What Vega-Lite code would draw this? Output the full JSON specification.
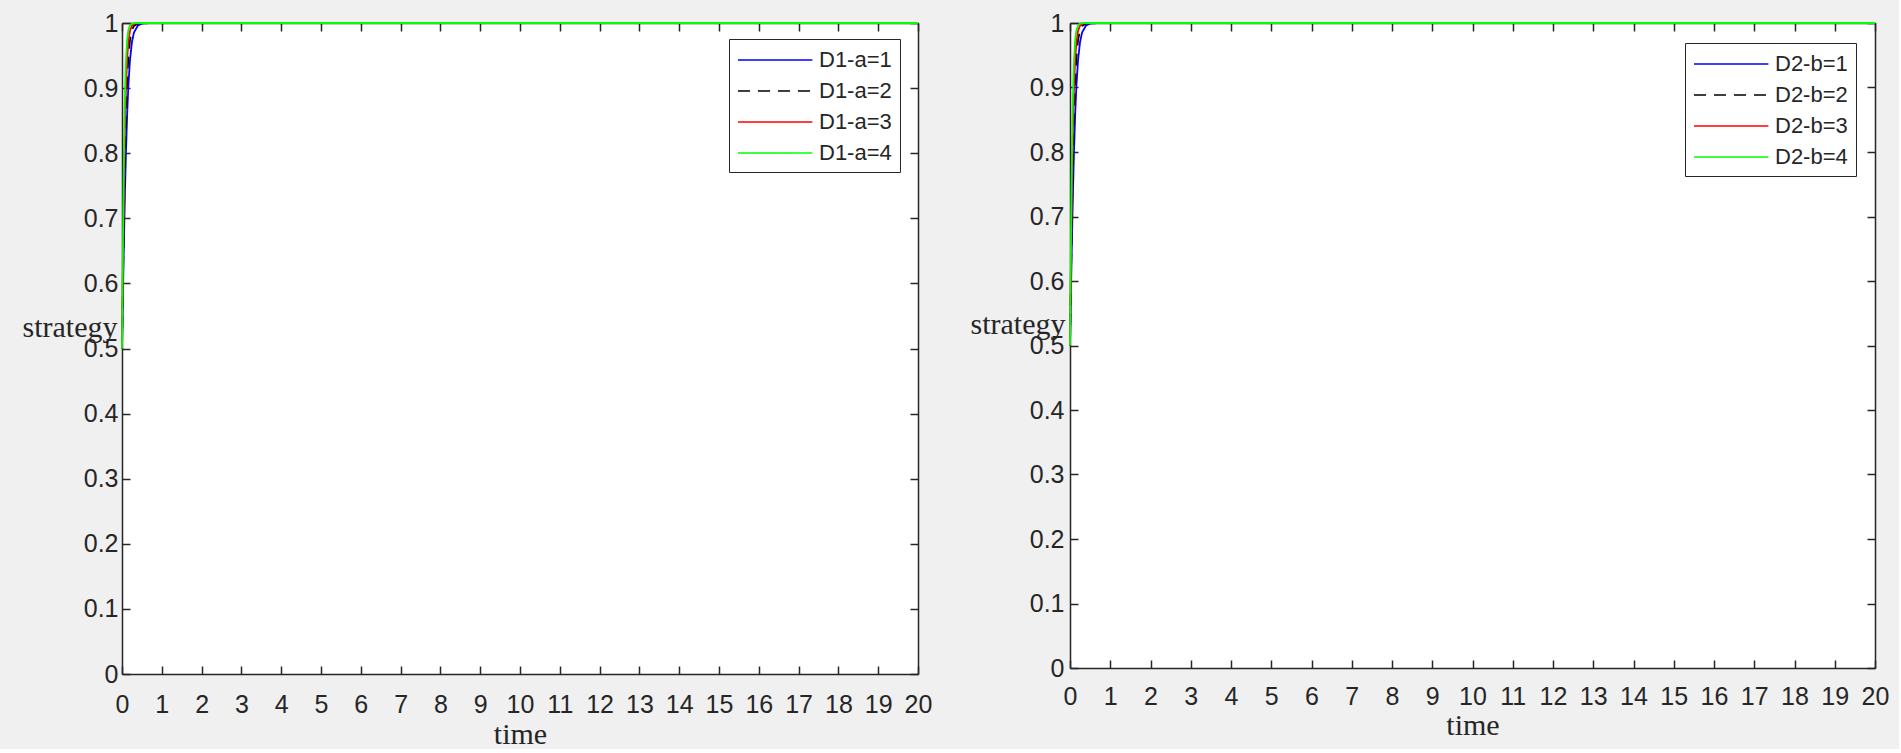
{
  "$schema": "https://vega.github.io/schema/vega-lite/v6.json",
  "background": "#f0f0f0",
  "padding": {"left": 22, "top": 11, "right": 10, "bottom": 0},
  "spacing": 38,
  "datasets": {
    "curves": [
      {"t": 0, "s": "1", "y": 0.5}, {"t": 0.02, "s": "1", "y": 0.5695}, {"t": 0.04, "s": "1", "y": 0.6365}, {"t": 0.06, "s": "1", "y": 0.6985},
      {"t": 0.08, "s": "1", "y": 0.754}, {"t": 0.1, "s": "1", "y": 0.8022}, {"t": 0.13, "s": "1", "y": 0.8606}, {"t": 0.16, "s": "1", "y": 0.9038},
      {"t": 0.2, "s": "1", "y": 0.9427}, {"t": 0.25, "s": "1", "y": 0.9707}, {"t": 0.3, "s": "1", "y": 0.9852}, {"t": 0.4, "s": "1", "y": 0.9963},
      {"t": 0.5, "s": "1", "y": 0.9991}, {"t": 0.7, "s": "1", "y": 0.9999}, {"t": 1, "s": "1", "y": 1}, {"t": 2, "s": "1", "y": 1},
      {"t": 5, "s": "1", "y": 1}, {"t": 10, "s": "1", "y": 1}, {"t": 20, "s": "1", "y": 1},
      {"t": 0, "s": "2", "y": 0.5}, {"t": 0.02, "s": "2", "y": 0.589}, {"t": 0.04, "s": "2", "y": 0.6726}, {"t": 0.06, "s": "2", "y": 0.7465},
      {"t": 0.08, "s": "2", "y": 0.8085}, {"t": 0.1, "s": "2", "y": 0.8581}, {"t": 0.13, "s": "2", "y": 0.9122}, {"t": 0.16, "s": "2", "y": 0.9469},
      {"t": 0.2, "s": "2", "y": 0.9734}, {"t": 0.25, "s": "2", "y": 0.989}, {"t": 0.3, "s": "2", "y": 0.9955}, {"t": 0.4, "s": "2", "y": 0.9993},
      {"t": 0.5, "s": "2", "y": 0.9999}, {"t": 0.7, "s": "2", "y": 1}, {"t": 1, "s": "2", "y": 1}, {"t": 2, "s": "2", "y": 1},
      {"t": 5, "s": "2", "y": 1}, {"t": 10, "s": "2", "y": 1}, {"t": 20, "s": "2", "y": 1},
      {"t": 0, "s": "3", "y": 0.5}, {"t": 0.02, "s": "3", "y": 0.6083}, {"t": 0.04, "s": "3", "y": 0.7068}, {"t": 0.06, "s": "3", "y": 0.7892},
      {"t": 0.08, "s": "3", "y": 0.8532}, {"t": 0.1, "s": "3", "y": 0.9002}, {"t": 0.13, "s": "3", "y": 0.9458}, {"t": 0.16, "s": "3", "y": 0.9712},
      {"t": 0.2, "s": "3", "y": 0.9879}, {"t": 0.25, "s": "3", "y": 0.9959}, {"t": 0.3, "s": "3", "y": 0.9986}, {"t": 0.4, "s": "3", "y": 0.9998},
      {"t": 0.5, "s": "3", "y": 1}, {"t": 0.7, "s": "3", "y": 1}, {"t": 1, "s": "3", "y": 1}, {"t": 2, "s": "3", "y": 1},
      {"t": 5, "s": "3", "y": 1}, {"t": 10, "s": "3", "y": 1}, {"t": 20, "s": "3", "y": 1},
      {"t": 0, "s": "4", "y": 0.5}, {"t": 0.02, "s": "4", "y": 0.6365}, {"t": 0.04, "s": "4", "y": 0.754}, {"t": 0.06, "s": "4", "y": 0.8429},
      {"t": 0.08, "s": "4", "y": 0.9038}, {"t": 0.1, "s": "4", "y": 0.9427}, {"t": 0.13, "s": "4", "y": 0.9744}, {"t": 0.16, "s": "4", "y": 0.9888},
      {"t": 0.2, "s": "4", "y": 0.9963}, {"t": 0.25, "s": "4", "y": 0.9991}, {"t": 0.3, "s": "4", "y": 0.9998}, {"t": 0.4, "s": "4", "y": 1},
      {"t": 0.5, "s": "4", "y": 1}, {"t": 0.7, "s": "4", "y": 1}, {"t": 1, "s": "4", "y": 1}, {"t": 2, "s": "4", "y": 1},
      {"t": 5, "s": "4", "y": 1}, {"t": 10, "s": "4", "y": 1}, {"t": 20, "s": "4", "y": 1}
    ]
  },
  "data": {"name": "curves"},
  "hconcat": [
    {
      "width": 796,
      "height": 651,
      "layer": [
        {
          "mark": {"type": "line", "strokeWidth": 1.8},
          "encoding": {
            "x": {"field": "t", "type": "quantitative", "scale": {"domain": [0, 20], "nice": false},
                  "axis": {"values": [0,1,2,3,4,5,6,7,8,9,10,11,12,13,14,15,16,17,18,19,20], "format": "d", "title": "time", "labelPadding": 26,
                           "titleY": 69, "titleBaseline": "alphabetic"}},
            "y": {"field": "y", "type": "quantitative", "scale": {"domain": [0, 1], "nice": false},
                  "axis": {"values": [0,0.1,0.2,0.3,0.4,0.5,0.6,0.7,0.8,0.9,1], "format": "~g", "title": "strategy", "labelPadding": 12,
                           "titleAngle": 0, "titleAlign": "right", "titleBaseline": "alphabetic", "titleX": -5, "titleY": 313}},
            "color": {"field": "s", "type": "nominal",
                      "scale": {"domain": ["1", "2", "3", "4"], "range": ["#0000ff", "#000000", "#ff0000", "#00ff00"]},
                      "legend": {"title": null, "labelExpr": "'D1-a=' + datum.label", "legendX": 607, "legendY": 16}},
            "strokeDash": {"field": "s", "type": "nominal",
                           "scale": {"domain": ["1", "2", "3", "4"], "range": [[1, 0], [12, 8], [1, 0], [1, 0]]},
                           "legend": {"title": null, "labelExpr": "'D1-a=' + datum.label", "legendX": 607, "legendY": 16}}
          }
        },
        {
          "mark": {"type": "line", "opacity": 0},
          "encoding": {
            "x": {"field": "t", "type": "quantitative", "scale": {"domain": [0, 20], "nice": false},
                  "axis": {"orient": "top", "values": [0,1,2,3,4,5,6,7,8,9,10,11,12,13,14,15,16,17,18,19,20], "labels": false, "title": null}},
            "y": {"field": "y", "type": "quantitative", "scale": {"domain": [0, 1], "nice": false},
                  "axis": {"orient": "right", "values": [0,0.1,0.2,0.3,0.4,0.5,0.6,0.7,0.8,0.9,1], "labels": false, "title": null}}
          }
        }
      ],
      "resolve": {"axis": {"x": "independent", "y": "independent"}}
    },
    {
      "width": 805,
      "height": 645,
      "layer": [
        {
          "mark": {"type": "line", "strokeWidth": 1.8},
          "encoding": {
            "x": {"field": "t", "type": "quantitative", "scale": {"domain": [0, 20], "nice": false},
                  "axis": {"values": [0,1,2,3,4,5,6,7,8,9,10,11,12,13,14,15,16,17,18,19,20], "format": "d", "title": "time", "labelPadding": 24,
                           "titleY": 66, "titleBaseline": "alphabetic"}},
            "y": {"field": "y", "type": "quantitative", "scale": {"domain": [0, 1], "nice": false},
                  "axis": {"values": [0,0.1,0.2,0.3,0.4,0.5,0.6,0.7,0.8,0.9,1], "format": "~g", "title": "strategy", "labelPadding": 14,
                           "titleAngle": 0, "titleAlign": "right", "titleBaseline": "alphabetic", "titleX": -5, "titleY": 310}},
            "color": {"field": "s", "type": "nominal",
                      "scale": {"domain": ["1", "2", "3", "4"], "range": ["#0000ff", "#000000", "#ff0000", "#00ff00"]},
                      "legend": {"title": null, "labelExpr": "'D2-b=' + datum.label", "legendX": 615, "legendY": 20}},
            "strokeDash": {"field": "s", "type": "nominal",
                           "scale": {"domain": ["1", "2", "3", "4"], "range": [[1, 0], [12, 8], [1, 0], [1, 0]]},
                           "legend": {"title": null, "labelExpr": "'D2-b=' + datum.label", "legendX": 615, "legendY": 20}}
          }
        },
        {
          "mark": {"type": "line", "opacity": 0},
          "encoding": {
            "x": {"field": "t", "type": "quantitative", "scale": {"domain": [0, 20], "nice": false},
                  "axis": {"orient": "top", "values": [0,1,2,3,4,5,6,7,8,9,10,11,12,13,14,15,16,17,18,19,20], "labels": false, "title": null}},
            "y": {"field": "y", "type": "quantitative", "scale": {"domain": [0, 1], "nice": false},
                  "axis": {"orient": "right", "values": [0,0.1,0.2,0.3,0.4,0.5,0.6,0.7,0.8,0.9,1], "labels": false, "title": null}}
          }
        }
      ],
      "resolve": {"axis": {"x": "independent", "y": "independent"}}
    }
  ],
  "resolve": {"scale": {"color": "independent", "strokeDash": "independent"}},
  "config": {
    "view": {"fill": "white", "stroke": null},
    "axis": {
      "grid": false, "labelOverlap": false, "labelFlush": false,
      "domainColor": "#262626", "domainWidth": 1.5,
      "tickColor": "#262626", "tickWidth": 1.5, "tickSize": -8,
      "labelFont": "Liberation Sans", "labelFontSize": 25, "labelColor": "#262626",
      "titleFont": "Liberation Serif", "titleFontSize": 30, "titleFontWeight": "normal", "titleColor": "#262626"
    },
    "legend": {
      "orient": "none",
      "symbolType": "M-1,0H5.2", "symbolSize": 576, "symbolStrokeWidth": 1.5,
      "labelFont": "Liberation Sans", "labelFontSize": 22, "labelColor": "#262626", "labelOffset": 56,
      "strokeColor": "#262626", "fillColor": "white", "padding": 8, "rowPadding": 7, "cornerRadius": 0
    }
  }
}
